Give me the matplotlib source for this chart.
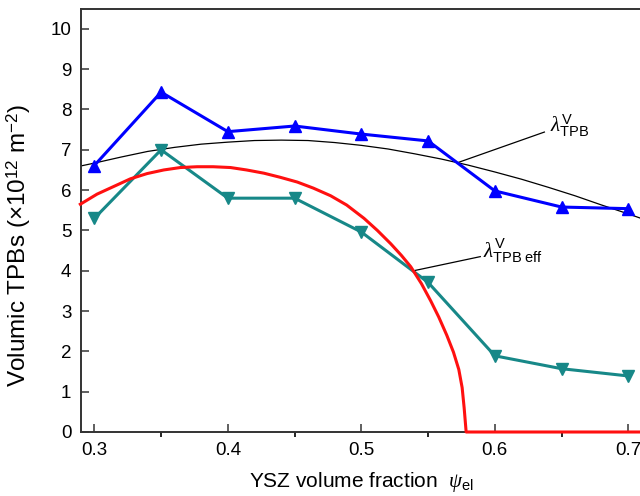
import matplotlib
matplotlib.use("Agg")
import matplotlib.pyplot as plt
import numpy as np

plt.rcParams['font.family'] = ['Liberation Sans', 'DejaVu Sans']
plt.rcParams['mathtext.fontset'] = 'custom'
plt.rcParams['mathtext.rm'] = 'Liberation Sans'
plt.rcParams['mathtext.sf'] = 'Liberation Sans'
plt.rcParams['mathtext.it'] = 'Liberation Serif:italic'

# measured volumic TPB densities (x1e12 m^-2)
psi = [0.30, 0.35, 0.40, 0.45, 0.50, 0.55, 0.60, 0.65, 0.70]
tpb_total = [6.61, 8.43, 7.45, 7.59, 7.39, 7.22, 5.98, 5.58, 5.54]
tpb_eff = [5.30, 7.00, 5.80, 5.80, 4.96, 3.71, 1.89, 1.57, 1.39]

# model curve, total TPB
psi_model = [0.290, 0.30, 0.32, 0.34, 0.36, 0.38, 0.40, 0.42, 0.44,
             0.46, 0.48, 0.50, 0.52, 0.54, 0.56, 0.58, 0.60, 0.62,
             0.64, 0.66, 0.68, 0.70, 0.712]
lam_model = [6.60, 6.67, 6.82, 6.96, 7.06, 7.14, 7.19, 7.23, 7.24,
             7.23, 7.18, 7.11, 7.02, 6.90, 6.77, 6.62, 6.45, 6.27,
             6.07, 5.86, 5.63, 5.41, 5.27]

# model curve, effective TPB (percolating)
psi_eff_model = [0.2895, 0.302, 0.3145, 0.327, 0.3395, 0.352, 0.3644, 0.377,
                 0.389, 0.402, 0.414, 0.427, 0.439, 0.452, 0.464, 0.477,
                 0.489, 0.502, 0.512, 0.522, 0.530, 0.537, 0.545, 0.552,
                 0.558, 0.564, 0.569, 0.573, 0.5755, 0.577, 0.578, 0.5785,
                 0.712]
lam_eff_model = [5.65, 5.90, 6.09, 6.28, 6.41, 6.50, 6.56, 6.58,
                 6.58, 6.56, 6.50, 6.42, 6.32, 6.20, 6.05, 5.86,
                 5.63, 5.30, 5.00, 4.67, 4.38, 4.10, 3.68, 3.25,
                 2.85, 2.40, 1.98, 1.55, 1.10, 0.60, 0.20, 0.0,
                 0.0]

fig = plt.figure(figsize=(6.4, 4.96), dpi=100)
ax = fig.add_axes([81/640, 64/496, 560.7/640, 423.3/496])

ax.plot(psi_model, lam_model, color='black', lw=0.9, zorder=2)
ax.plot(psi_eff_model, lam_eff_model, color='#ff1010', lw=2.2, zorder=5,
        clip_on=False, solid_joinstyle='round')
ax.plot(psi, tpb_total, color='#0000ff', lw=2.2, marker='^', ms=9, zorder=4)
ax.plot(psi, tpb_eff, color='#178888', lw=2.2, marker='v', ms=9, zorder=4)

# leader lines + labels
ax.plot([0.5729, 0.6371], [6.69, 7.44], color='black', lw=0.9)
ax.text(0.6416, 7.59, r'$\lambda^{\rm V}_{\rm TPB}$', fontsize=15,
        ha='left', va='center')
ax.plot([0.5392, 0.5891], [4.00, 4.35], color='black', lw=0.9)
ax.text(0.5914, 4.48, r'$\lambda^{\rm V}_{\rm TPB\ eff}$', fontsize=15,
        ha='left', va='center')

ax.set_xlim(0.29, 0.71)
ax.set_ylim(0, 10.5)
ax.set_xticks([0.3, 0.4, 0.5, 0.6, 0.7])
ax.set_xticks([0.35, 0.45, 0.55, 0.65], minor=True)
ax.set_yticks(range(0, 11))
ax.tick_params(direction='in', labelsize=13.5, width=1.2, color='#444444')
ax.tick_params(which='major', length=5.5, pad=7)
ax.tick_params(which='minor', length=3.5, width=1.2)

for side in ['left', 'bottom', 'top']:
    ax.spines[side].set_linewidth(1.4)
    ax.spines[side].set_color('#333333')
ax.spines['right'].set_visible(False)

ax.set_xlabel(r'YSZ volume fraction  $\psi_{\rm el}$', fontsize=15, labelpad=8)
ax.set_ylabel(r'Volumic TPBs (×10$^{12}$ m$^{-2}$)', fontsize=17.5)
ax.yaxis.set_label_coords(-0.0856, 0.442)

fig.savefig('out.png', dpi=100)
